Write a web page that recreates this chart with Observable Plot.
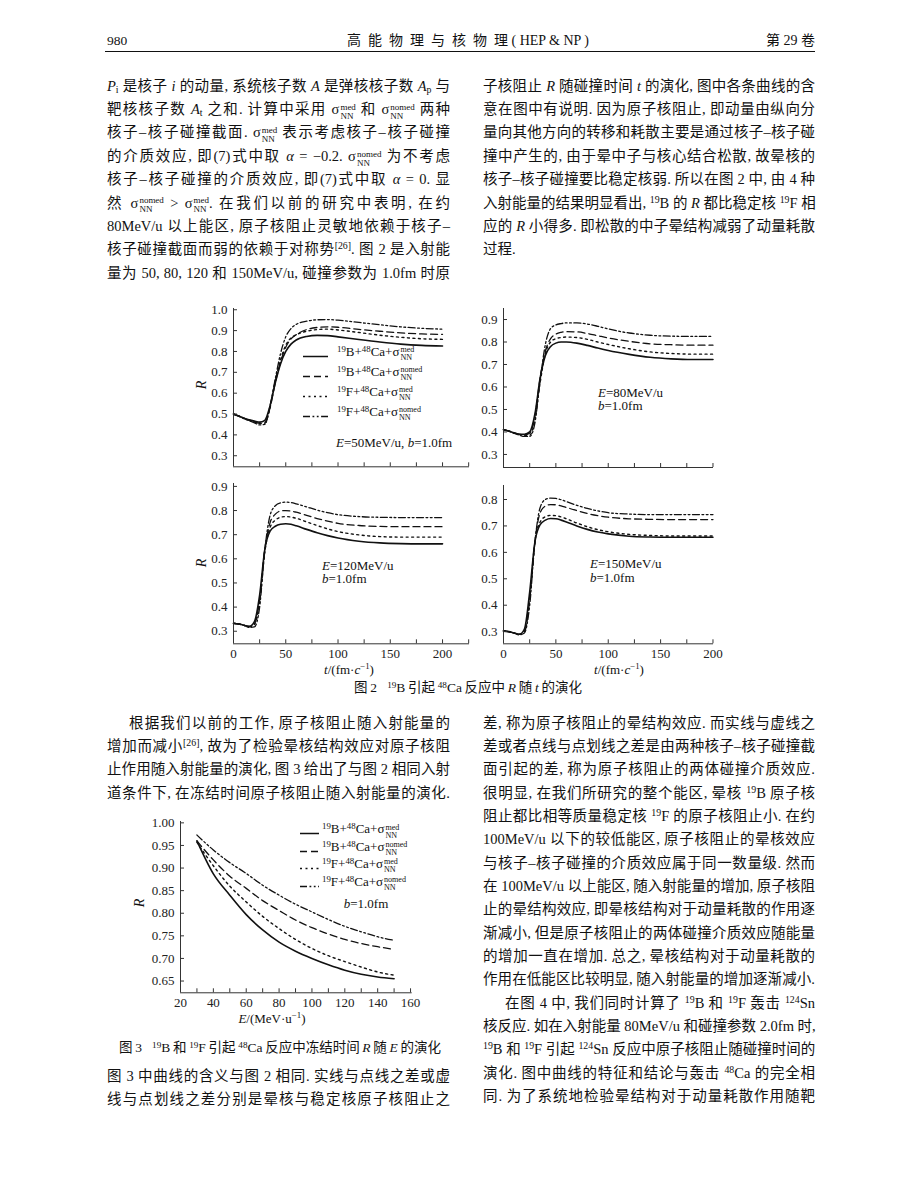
<!DOCTYPE html>
<html><head><meta charset="utf-8">
<script src="https://cdn.jsdelivr.net/npm/d3@7"></script>
<script src="https://cdn.jsdelivr.net/npm/@observablehq/plot@0.6"></script>
<style>
html,body{margin:0;padding:0;background:#fff;}
#page{position:relative;width:920px;height:1191px;overflow:hidden;background:#fff;font-family:"Liberation Serif","Noto Sans CJK SC",serif;color:#111;}
.ln{position:absolute;height:24px;line-height:24px;font-size:14.5px;white-space:nowrap;}
.j{text-align:justify;text-align-last:justify;}
sup{font-size:0.68em;vertical-align:0.5em;line-height:0;}
sub{font-size:0.68em;vertical-align:-0.25em;line-height:0;}
.sg{white-space:nowrap;}
.st{display:inline-block;font-size:0.62em;line-height:1.0;vertical-align:-0.55em;margin-left:1px;text-align:left;}
.ov{position:absolute;white-space:nowrap;line-height:1;}
svg.lg{vertical-align:middle;}
</style></head><body><div id="page"></div>
<script>
// ---------- DATA ----------
const seriesKeys = ["B_med", "B_nomed", "F_med", "F_nomed"];
const tFig2 = [0,5,10,15,20,25,30,35,40,45,50,55,60,70,80,90,100,120,140,160,180,200];

const E50_B_med   = [.500,.490,.480,.472,.466,.461,.470,.540,.650,.740,.800,.835,.855,.872,.877,.876,.870,.857,.845,.835,.829,.826];
const E50_B_nomed = [.500,.490,.480,.471,.463,.456,.460,.530,.650,.750,.820,.860,.880,.905,.915,.918,.916,.906,.897,.889,.884,.882];
const E50_F_med   = [.500,.490,.479,.470,.462,.454,.455,.535,.660,.760,.830,.865,.880,.897,.905,.907,.903,.891,.878,.868,.861,.858];
const E50_F_nomed = [.500,.490,.478,.468,.458,.448,.450,.540,.670,.790,.870,.910,.930,.945,.952,.953,.950,.939,.928,.918,.911,.907];

const E80_B_med   = [.410,.404,.396,.390,.390,.400,.480,.640,.740,.780,.795,.800,.800,.795,.785,.773,.762,.745,.732,.725,.722,.722];
const E80_B_nomed = [.410,.404,.396,.390,.388,.395,.470,.640,.760,.815,.835,.843,.846,.845,.838,.828,.818,.803,.792,.788,.786,.786];
const E80_F_med   = [.410,.404,.395,.388,.385,.386,.455,.620,.750,.800,.815,.820,.822,.820,.812,.800,.789,.770,.756,.749,.746,.746];
const E80_F_nomed = [.410,.404,.394,.386,.380,.380,.440,.630,.790,.860,.876,.882,.885,.885,.880,.870,.858,.840,.830,.826,.825,.825];

const E120_B_med   = [.333,.330,.325,.320,.340,.450,.640,.715,.735,.743,.745,.743,.737,.722,.708,.696,.686,.673,.666,.663,.662,.662];
const E120_B_nomed = [.333,.330,.325,.320,.332,.430,.640,.750,.785,.798,.800,.798,.793,.780,.767,.756,.747,.738,.734,.733,.733,.733];
const E120_F_med   = [.333,.330,.325,.318,.328,.420,.630,.730,.760,.772,.775,.773,.768,.753,.738,.724,.713,.699,.692,.690,.690,.690];
const E120_F_nomed = [.333,.330,.324,.316,.318,.400,.640,.780,.820,.832,.835,.833,.828,.815,.802,.791,.783,.775,.772,.771,.771,.771];

const E150_B_med   = [.303,.300,.295,.290,.310,.450,.640,.705,.722,.728,.727,.722,.715,.700,.687,.677,.670,.661,.658,.657,.657,.657];
const E150_B_nomed = [.303,.300,.295,.290,.300,.420,.640,.750,.775,.781,.780,.776,.770,.758,.747,.739,.733,.727,.725,.724,.724,.724];
const E150_F_med   = [.303,.300,.295,.290,.305,.430,.640,.715,.735,.740,.739,.734,.727,.711,.697,.686,.678,.668,.664,.662,.662,.662];
const E150_F_nomed = [.303,.300,.294,.288,.295,.400,.640,.770,.800,.805,.804,.799,.792,.778,.766,.757,.750,.745,.743,.743,.743,.743];

const eFig3 = [30,40,50,60,70,80,90,100,110,120,130,140,150];
const F3_B_med   = [.960,.887,.840,.797,.763,.736,.716,.700,.686,.674,.665,.659,.655];
const F3_B_nomed = [.960,.918,.882,.855,.828,.806,.785,.768,.754,.742,.733,.726,.720];
const F3_F_med   = [.957,.905,.860,.825,.793,.766,.742,.722,.706,.693,.681,.670,.663];
const F3_F_nomed = [.973,.940,.912,.888,.862,.840,.820,.803,.786,.771,.759,.748,.740];

const fig2XLabels = [0,50,100,150,200];
const fig2XTicksLeft = [25,50,75,100,125,150,175,200,225];
const fig2XTicksRight = [25,50,75,100,125,150,175,200];
const yTicksA = [0.3,0.4,0.5,0.6,0.7,0.8,0.9,1.0];
const yTicksB = [0.3,0.4,0.5,0.6,0.7,0.8,0.9];
const yTicksC = [0.3,0.4,0.5,0.6,0.7,0.8,0.9];
const yTicksD = [0.3,0.4,0.5,0.6,0.7,0.8];
const fig3XLabels = [20,40,60,80,100,120,140,160];
const fig3XTicks = [30,40,50,60,70,80,90,100,110,120,130,140,150,160];
const fig3YTicks = [0.65,0.70,0.75,0.80,0.85,0.90,0.95,1.00];

// ---------- helpers ----------
const page = document.getElementById("page");
const S = (sup, sub) => `<span class="sg">σ<span class="st">${sup}<br>${sub}</span></span>`;
const dashes = {B_med: null, B_nomed: "7,4", F_med: "2,3.5", F_nomed: "7,2.5,1.8,2.5,1.8,2.5"};
const widths = {B_med: 1.6, B_nomed: 1.3, F_med: 1.4, F_nomed: 1.3};

function rowsOf(xs, arrs, xKey) {
  const out = [];
  seriesKeys.forEach((k, i) => arrs[i].forEach((v, j) => out.push({[xKey]: xs[j], R: v, s: k})));
  return out;
}

function panel(cfg) {
  const {rows, xKey, xDomain, yDomain, ax0, ax1, ay0, ay1, xTicks, xLabels, yTicks, yFmt} = cfg;
  const mL = 45, mR = 8, mT = 6, mB = 26;
  const w = ax1 - ax0, h = ay1 - ay0;
  const kx = (xDomain[1] - xDomain[0]) / w, ky = (yDomain[1] - yDomain[0]) / h;
  const ac = "#333";
  const marks = [];
  for (const k of seriesKeys) {
    marks.push(Plot.line(rows.filter(d => d.s === k), {x: xKey, y: "R", stroke: "#111", strokeWidth: widths[k], strokeDasharray: dashes[k], curve: "monotone-x"}));
  }
  marks.push(Plot.ruleX([xDomain[0]], {y1: yDomain[0], y2: yDomain[1], stroke: ac}));
  marks.push(Plot.ruleY([yDomain[0]], {x1: xDomain[0], x2: xDomain[1], stroke: ac}));
  marks.push(Plot.ruleY(yTicks, {x1: xDomain[0], x2: xDomain[0] + 4 * kx, stroke: ac}));
  marks.push(Plot.ruleX(xTicks, {y1: yDomain[0], y2: yDomain[0] + 4 * ky, stroke: ac}));
  marks.push(Plot.axisY({ticks: yTicks, tickSize: 0, tickPadding: 6, tickFormat: yFmt, label: null}));
  if (xLabels) marks.push(Plot.axisX({ticks: xLabels, tickSize: 0, tickPadding: 5, tickFormat: d => String(d), label: null}));
  const svg = Plot.plot({
    width: w + mL + mR, height: h + mT + mB,
    marginLeft: mL, marginRight: mR, marginTop: mT, marginBottom: mB,
    x: {domain: xDomain, axis: null}, y: {domain: yDomain, axis: null},
    style: {background: "transparent", overflow: "visible", fontFamily: "'Liberation Serif', serif", fontSize: "13px", color: "#222"},
    marks
  });
  svg.style.position = "absolute";
  svg.style.left = (ax0 - mL) + "px";
  svg.style.top = (ay0 - mT) + "px";
  page.appendChild(svg);
}

function ov(html, x, y, {anchor = "start", size = 13, rotate = 0, style = ""} = {}) {
  const d = document.createElement("div");
  d.className = "ov";
  d.innerHTML = html;
  const tx = anchor === "middle" ? "-50%" : anchor === "end" ? "-100%" : "0";
  d.style.cssText += `left:${x}px;top:${y}px;font-size:${size}px;transform:translate(${tx},-50%) rotate(${rotate}deg);${style}`;
  page.appendChild(d);
  return d;
}

function swatch(k, len) {
  const da = dashes[k] ? `stroke-dasharray="${dashes[k]}"` : "";
  return `<svg class="lg" width="${len}" height="6"><line x1="0" y1="3" x2="${len}" y2="3" stroke="#111" stroke-width="${widths[k]}" ${da}/></svg>`;
}
const legendLabels = [
  `<sup>19</sup>B+<sup>48</sup>Ca+${S("med","NN")}`,
  `<sup>19</sup>B+<sup>48</sup>Ca+${S("nomed","NN")}`,
  `<sup>19</sup>F+<sup>48</sup>Ca+${S("med","NN")}`,
  `<sup>19</sup>F+<sup>48</sup>Ca+${S("nomed","NN")}`
];
function legend(xs, len, xt, ys) {
  seriesKeys.forEach((k, i) => {
    ov(swatch(k, len), xs, ys[i], {});
    ov(legendLabels[i], xt, ys[i] - 1, {size: 13});
  });
}

// ---------- header ----------
ov("980", 107, 41, {size: 13.5});
ov("高&nbsp; 能&nbsp; 物&nbsp; 理&nbsp; 与&nbsp; 核&nbsp; 物&nbsp; 理 ( HEP &amp; NP )", 468, 41, {anchor: "middle", size: 14});
ov("第 29 卷", 815, 41, {anchor: "end", size: 14});
const rule = document.createElement("div");
rule.style.cssText = "position:absolute;left:105px;top:51px;width:710px;height:1.3px;background:#111;";
page.appendChild(rule);

// ---------- body text ----------
const LX = 107, LW = 343, RX = 483, RW = 332;
const topY = i => 85.5 + 23.4 * i;
const botY = i => 722.7 + 23.33 * i;
const textLines = [
  [LX, topY(0), LW, 1, `<i>P</i><sub>i</sub> 是核子 <i>i</i> 的动量, 系统核子数 <i>A</i> 是弹核核子数 <i>A</i><sub>p</sub> 与`],
  [LX, topY(1), LW, 1, `靶核核子数 <i>A</i><sub>t</sub> 之和. 计算中采用 ${S("med","NN")} 和 ${S("nomed","NN")} 两种`],
  [LX, topY(2), LW, 1, `核子–核子碰撞截面. ${S("med","NN")} 表示考虑核子–核子碰撞`],
  [LX, topY(3), LW, 1, `的介质效应, 即(7)式中取 <i>α</i> = −0.2. ${S("nomed","NN")} 为不考虑`],
  [LX, topY(4), LW, 1, `核子–核子碰撞的介质效应, 即(7)式中取 <i>α</i> = 0. 显`],
  [LX, topY(5), LW, 1, `然 ${S("nomed","NN")} &gt; ${S("med","NN")}. 在我们以前的研究中表明, 在约`],
  [LX, topY(6), LW, 1, `80MeV/u 以上能区, 原子核阻止灵敏地依赖于核子–`],
  [LX, topY(7), LW, 1, `核子碰撞截面而弱的依赖于对称势<sup>[26]</sup>. 图 2 是入射能`],
  [LX, topY(8), LW, 1, `量为 50, 80, 120 和 150MeV/u, 碰撞参数为 1.0fm 时原`],
  [RX, topY(0), RW, 1, `子核阻止 <i>R</i> 随碰撞时间 <i>t</i> 的演化, 图中各条曲线的含`],
  [RX, topY(1), RW, 1, `意在图中有说明. 因为原子核阻止, 即动量由纵向分`],
  [RX, topY(2), RW, 1, `量向其他方向的转移和耗散主要是通过核子–核子碰`],
  [RX, topY(3), RW, 1, `撞中产生的, 由于晕中子与核心结合松散, 故晕核的`],
  [RX, topY(4), RW, 1, `核子–核子碰撞要比稳定核弱. 所以在图 2 中, 由 4 种`],
  [RX, topY(5), RW, 1, `入射能量的结果明显看出, <sup>19</sup>B 的 <i>R</i> 都比稳定核 <sup>19</sup>F 相`],
  [RX, topY(6), RW, 1, `应的 <i>R</i> 小得多. 即松散的中子晕结构减弱了动量耗散`],
  [RX, topY(7), RW, 0, `过程.`],
  [LX + 22, botY(0), LW - 22, 1, `根据我们以前的工作, 原子核阻止随入射能量的`],
  [LX, botY(1), LW, 1, `增加而减小<sup>[26]</sup>, 故为了检验晕核结构效应对原子核阻`],
  [LX, botY(2), LW, 1, `止作用随入射能量的演化, 图 3 给出了与图 2 相同入射`],
  [LX, botY(3), LW, 1, `道条件下, 在冻结时间原子核阻止随入射能量的演化.`],
  [LX, 1075.5, LW, 1, `图 3 中曲线的含义与图 2 相同. 实线与点线之差或虚`],
  [LX, 1098.8, LW, 1, `线与点划线之差分别是晕核与稳定核原子核阻止之`],
  [RX, botY(0), RW, 1, `差, 称为原子核阻止的晕结构效应. 而实线与虚线之`],
  [RX, botY(1), RW, 1, `差或者点线与点划线之差是由两种核子–核子碰撞截`],
  [RX, botY(2), RW, 1, `面引起的差, 称为原子核阻止的两体碰撞介质效应.`],
  [RX, botY(3), RW, 1, `很明显, 在我们所研究的整个能区, 晕核 <sup>19</sup>B 原子核`],
  [RX, botY(4), RW, 1, `阻止都比相等质量稳定核 <sup>19</sup>F 的原子核阻止小. 在约`],
  [RX, botY(5), RW, 1, `100MeV/u 以下的较低能区, 原子核阻止的晕核效应`],
  [RX, botY(6), RW, 1, `与核子–核子碰撞的介质效应属于同一数量级. 然而`],
  [RX, botY(7), RW, 1, `在 100MeV/u 以上能区, 随入射能量的增加, 原子核阻`],
  [RX, botY(8), RW, 1, `止的晕结构效应, 即晕核结构对于动量耗散的作用逐`],
  [RX, botY(9), RW, 1, `渐减小, 但是原子核阻止的两体碰撞介质效应随能量`],
  [RX, botY(10), RW, 1, `的增加一直在增加. 总之, 晕核结构对于动量耗散的`],
  [RX, botY(11), RW, 1, `作用在低能区比较明显, 随入射能量的增加逐渐减小.`],
  [RX + 22, botY(12), RW - 22, 1, `在图 4 中, 我们同时计算了 <sup>19</sup>B 和 <sup>19</sup>F 轰击 <sup>124</sup>Sn`],
  [RX, botY(13), RW, 1, `核反应. 如在入射能量 80MeV/u 和碰撞参数 2.0fm 时,`],
  [RX, botY(14), RW, 1, `<sup>19</sup>B 和 <sup>19</sup>F 引起 <sup>124</sup>Sn 反应中原子核阻止随碰撞时间的`],
  [RX, botY(15), RW, 1, `演化. 图中曲线的特征和结论与轰击 <sup>48</sup>Ca 的完全相`],
  [RX, botY(16), RW, 1, `同. 为了系统地检验晕结构对于动量耗散作用随靶`]
];
for (const [x, y, w, j, html] of textLines) {
  const d = document.createElement("div");
  d.className = "ln" + (j ? " j" : "");
  d.style.left = x + "px";
  d.style.top = (y - 12) + "px";
  d.style.width = w + "px";
  d.innerHTML = html;
  page.appendChild(d);
}

// ---------- Figure 2 ----------
const fmt1 = d3.format(".1f");
panel({rows: rowsOf(tFig2, [E50_B_med, E50_B_nomed, E50_F_med, E50_F_nomed], "t"), xKey: "t",
  xDomain: [0, 225.8], yDomain: [0.247, 1.006], ax0: 233, ax1: 469, ay0: 307.7, ay1: 466,
  xTicks: fig2XTicksLeft, xLabels: null, yTicks: yTicksA, yFmt: fmt1});
panel({rows: rowsOf(tFig2, [E80_B_med, E80_B_nomed, E80_F_med, E80_F_nomed], "t"), xKey: "t",
  xDomain: [0, 200.5], yDomain: [0.242, 0.949], ax0: 503, ax1: 713, ay0: 308, ay1: 467,
  xTicks: fig2XTicksRight, xLabels: null, yTicks: yTicksB, yFmt: fmt1});
panel({rows: rowsOf(tFig2, [E120_B_med, E120_B_nomed, E120_F_med, E120_F_nomed], "t"), xKey: "t",
  xDomain: [0, 225.8], yDomain: [0.248, 0.912], ax0: 233, ax1: 469, ay0: 483, ay1: 643.3,
  xTicks: fig2XTicksLeft, xLabels: fig2XLabels, yTicks: yTicksC, yFmt: fmt1});
panel({rows: rowsOf(tFig2, [E150_B_med, E150_B_nomed, E150_F_med, E150_F_nomed], "t"), xKey: "t",
  xDomain: [0, 200.5], yDomain: [0.254, 0.853], ax0: 503, ax1: 713, ay0: 485, ay1: 643.3,
  xTicks: fig2XTicksRight, xLabels: fig2XLabels, yTicks: yTicksD, yFmt: fmt1});

legend(303, 25, 337, [355, 375, 395, 415]);
ov(`<i>E</i>=50MeV/u, <i>b</i>=1.0fm`, 336, 442, {size: 13});
ov(`<i>E</i>=80MeV/u`, 598, 391.5, {size: 13});
ov(`<i>b</i>=1.0fm`, 598, 405, {size: 13});
ov(`<i>E</i>=120MeV/u`, 322, 564.5, {size: 13});
ov(`<i>b</i>=1.0fm`, 322, 578, {size: 13});
ov(`<i>E</i>=150MeV/u`, 590, 563, {size: 13});
ov(`<i>b</i>=1.0fm`, 590, 576.5, {size: 13});
ov(`<i>R</i>`, 202, 385, {anchor: "middle", size: 14, rotate: -90});
ov(`<i>R</i>`, 202, 563, {anchor: "middle", size: 14, rotate: -90});
ov(`<i>t</i>/(fm·<i>c</i><sup>−1</sup>)`, 349, 669, {anchor: "middle", size: 13});
ov(`<i>t</i>/(fm·<i>c</i><sup>−1</sup>)`, 619, 669, {anchor: "middle", size: 13});
ov(`图&thinsp;2&nbsp;&nbsp;&nbsp;<sup>19</sup>B&thinsp;引起&thinsp;<sup>48</sup>Ca&thinsp;反应中&thinsp;<i>R</i>&thinsp;随&thinsp;<i>t</i>&thinsp;的演化`, 468, 688, {anchor: "middle", size: 13.5});

// ---------- Figure 3 ----------
panel({rows: rowsOf(eFig3, [F3_B_med, F3_B_nomed, F3_F_med, F3_F_nomed], "E"), xKey: "E",
  xDomain: [20, 161], yDomain: [0.624, 1.003], ax0: 180, ax1: 411.7, ay0: 821, ay1: 992.3,
  xTicks: fig3XTicks, xLabels: fig3XLabels, yTicks: fig3YTicks, yFmt: d3.format(".2f")});
legend(300, 19, 322, [832.3, 849.5, 867, 885]);
ov(`<i>b</i>=1.0fm`, 366, 903.3, {anchor: "middle", size: 13});
ov(`<i>R</i>`, 140, 903, {anchor: "middle", size: 14, rotate: -90});
ov(`<i>E</i>/(MeV·u<sup>−1</sup>)`, 272, 1018, {anchor: "middle", size: 13});
ov(`图&thinsp;3&nbsp;&nbsp;&nbsp;<sup>19</sup>B&thinsp;和&thinsp;<sup>19</sup>F&thinsp;引起&thinsp;<sup>48</sup>Ca&thinsp;反应中冻结时间&thinsp;<i>R</i>&thinsp;随&thinsp;<i>E</i>&thinsp;的演化`, 280, 1048, {anchor: "middle", size: 13.5});
</script></body></html>
